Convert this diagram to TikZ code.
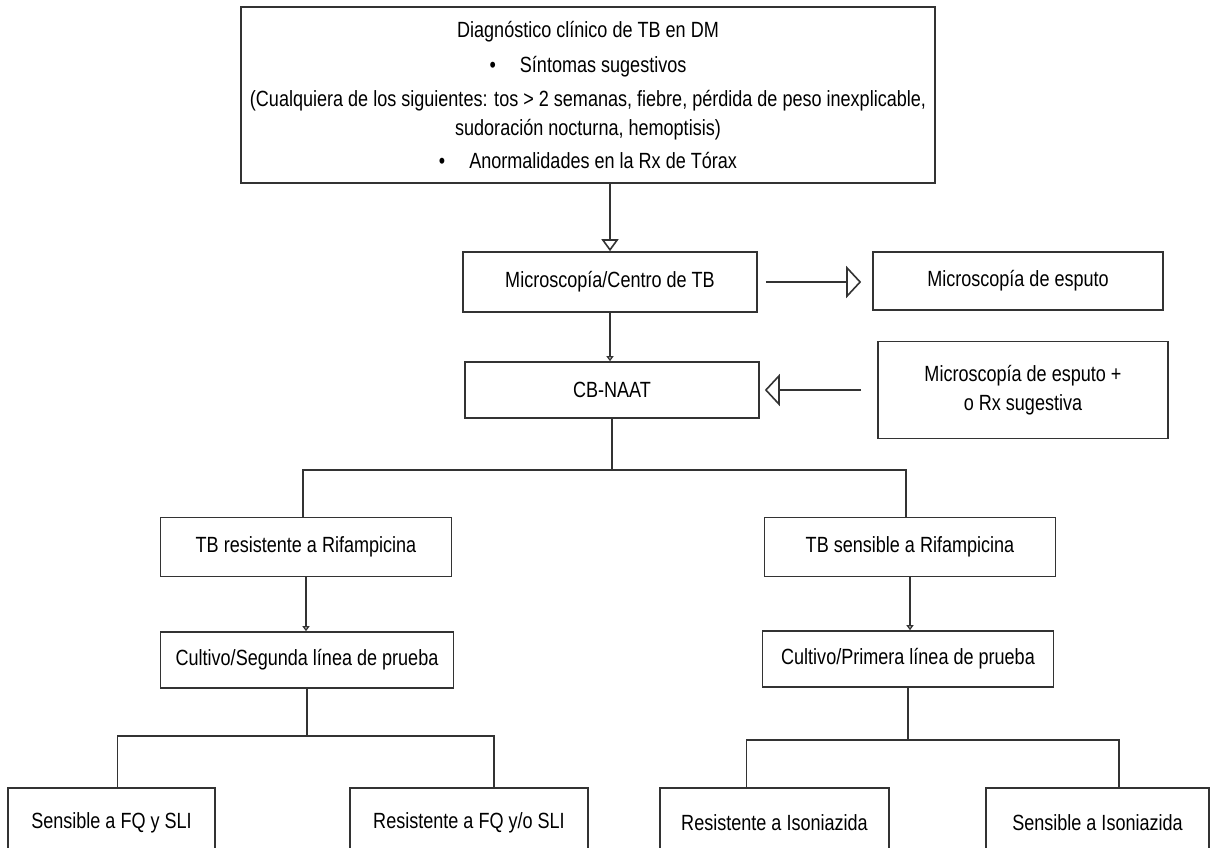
\documentclass[tikz,border=0pt]{standalone}
\usepackage{fontspec}
\setmainfont{Liberation Sans}[FakeStretch=0.82]
\usepackage{tikz}
\usetikzlibrary{arrows.meta,positioning}

\begin{document}
\begin{tikzpicture}[x=0.5pt,y=-0.5pt,line width=0.8pt,
    box/.style={draw=black!80,rectangle,align=center,inner sep=0pt,
      font=\fontsize{11}{14.5}\selectfont},
    link/.style={draw=black!80},
    bighead/.style={link,-{Triangle[open,length=7.5pt,width=16pt]}},
    downhead/.style={link,-{Triangle[open,length=6pt,width=8.5pt]}},
    tinyhead/.style={link,-{Triangle[open,length=2.5pt,width=3.5pt]}}]
  % Page
  \useasboundingbox (0,0) rectangle (1211,847);
  \clip (0,0) rectangle (1211,847);
  % Clinical diagnosis
  \node[box,minimum width=347pt,minimum height=88pt] (diag) at (588,95)
    {Diagnóstico clínico de TB en DM\\[3pt]
     \textbullet\hspace{12pt}Síntomas sugestivos\\[2.5pt]
     (Cualquiera de los siguientes: tos > 2 semanas, fiebre, pérdida de peso inexplicable,\\
     sudoración nocturna, hemoptisis)\\[2pt]
     \textbullet\hspace{12pt}Anormalidades en la Rx de Tórax};
  % Microscopy and CB-NAAT
  \node[box,minimum width=147pt,minimum height=30pt] (micro) at (610,282)
    {Microscopía/Centro de TB};
  \node[box,minimum width=145pt,minimum height=29pt] (esputo) at (1018,281)
    {Microscopía de esputo};
  \node[box,minimum width=147pt,minimum height=28pt] (naat) at (612,390)
    {CB-NAAT};
  \node[box,minimum width=145pt,minimum height=48.5pt] (esputomas) at (1023,390)
    {Microscopía de esputo +\\o Rx sugestiva};
  % Rifampicin result
  \node[box,minimum width=145.5pt,minimum height=29.5pt] (rifres) at (306,547)
    {TB resistente a Rifampicina};
  \node[box,minimum width=145.5pt,minimum height=29.5pt] (rifsen) at (910,547)
    {TB sensible a Rifampicina};
  % Culture
  \node[box,minimum width=146.5pt,minimum height=28pt] (cultseg) at (307,660)
    {Cultivo/Segunda línea de prueba};
  \node[box,minimum width=145.5pt,minimum height=28pt] (cultpri) at (908,659)
    {Cultivo/Primera línea de prueba};
  % Outcomes
  \node[box,minimum width=103.5pt,minimum height=35pt] (fqsen) at (111.5,823)
    {Sensible a FQ y SLI};
  \node[box,minimum width=119pt,minimum height=35pt] (fqres) at (469,823)
    {Resistente a FQ y/o SLI};
  \node[box,minimum width=114.5pt,minimum height=35pt] (inhres) at (774.5,823)
    {Resistente a Isoniazida};
  \node[box,minimum width=111.5pt,minimum height=35pt] (inhsen) at (1097.5,823)
    {Sensible a Isoniazida};
  % Arrows
  \draw[downhead] (diag.south -| micro.north) -- (micro.north);
  \draw[bighead,shorten <=4pt,shorten >=5.5pt] (micro.east) -- (micro.east -| esputo.west);
  \draw[tinyhead] (micro.south) -- (micro.south |- naat.north);
  \draw[bighead,shorten <=8pt,shorten >=2.5pt] (esputomas.west) -- (esputomas.west -| naat.east);
  \draw[tinyhead] (rifres.south) -- (rifres.south |- cultseg.north);
  \draw[tinyhead] (rifsen.south) -- (rifsen.south |- cultpri.north);
  % Branches
  \draw[link] (naat.south) -- ++(0,51) -| ([xshift=-1.5pt]rifres.north);
  \draw[link] (naat.south) ++(0,51) -| ([xshift=-2pt]rifsen.north);
  \draw[link] (cultseg.south) -- ++(0,47) -| ([xshift=3pt]fqsen.north);
  \draw[link] (cultseg.south) ++(0,47) -| ([xshift=12.5pt]fqres.north);
  \draw[link] (cultpri.south) -- ++(0,52) -| ([xshift=-14pt]inhres.north);
  \draw[link] (cultpri.south) ++(0,52) -| ([xshift=10.75pt]inhsen.north);
\end{tikzpicture}
\end{document}
